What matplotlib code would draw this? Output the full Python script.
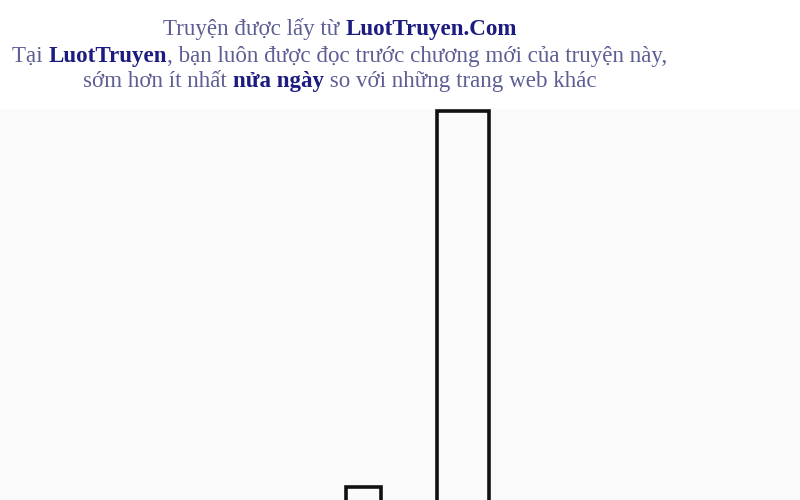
import matplotlib
matplotlib.use("Agg")
import matplotlib.pyplot as plt

# bar data: centre, top, width in pixel units
bar_pos = [363.5, 463]
bar_top = [13, 389]
bar_width = [35, 52]

# watermark lines: list of (text, bold) segments
line1 = [("Truyện được lấy từ ", False), ("LuotTruyen.Com", True)]
line2 = [("Tại ", False), ("LuotTruyen", True),
         (", bạn luôn được đọc trước chương mới của truyện này,", False)]
line3 = [("sớm hơn ít nhất ", False), ("nửa ngày", True),
         (" so với những trang web khác", False)]
lines = [line1, line2, line3]

fig = plt.figure(figsize=(8, 5), dpi=100, facecolor="#fafafa")
ax = fig.add_axes([0, 0, 1, 1])
ax.set_facecolor("#fafafa")
ax.set_xlim(0, 800)
ax.set_ylim(0, 500)
ax.axis("off")

ax.axhspan(392, 500, color="white", zorder=0)

base = -10  # keep the bottom edge below the frame
ax.bar(bar_pos, [t - base for t in bar_top], width=bar_width, bottom=base,
       facecolor="none", edgecolor="#111111", linewidth=2.6, zorder=2)

reg_col = "#5c5e94"
bold_col = "#1b1b80"
fs = 16.6

fig.canvas.draw()
renderer = fig.canvas.get_renderer()
ys = [465, 438, 413]  # baselines
for segs, y in zip(lines, ys):
    texts = []
    x = 0
    for s, b in segs:
        t = ax.text(x, y, s, fontsize=fs, family="Liberation Serif",
                    fontweight="bold" if b else "normal",
                    color=bold_col if b else reg_col, va="baseline", ha="left")
        bb = t.get_window_extent(renderer)
        texts.append((t, bb.width))
        x += bb.width
    cx = 340 - x / 2
    for t, w in texts:
        t.set_x(cx)
        cx += w

fig.savefig("out.png", dpi=100, facecolor=fig.get_facecolor())
